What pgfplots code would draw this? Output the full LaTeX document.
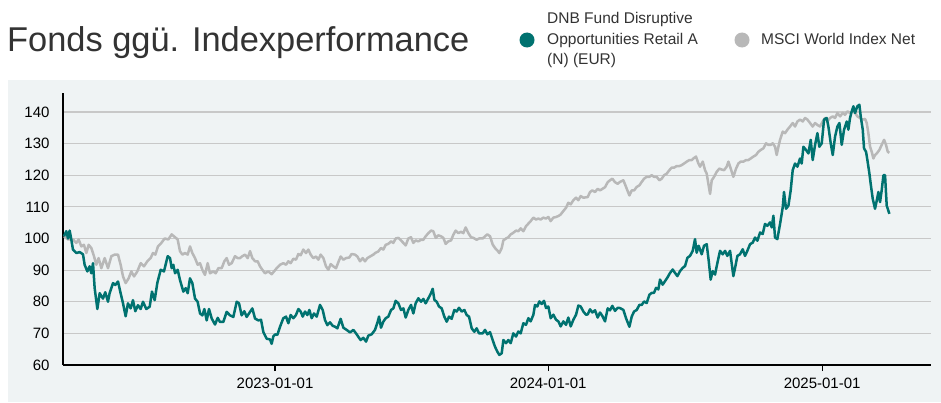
\documentclass[border=0pt]{standalone}
\usepackage{pgfplots}
\pgfplotsset{compat=1.18}
\usepackage{pgfplotstable}
\usepackage{fontspec}
\setmainfont{Liberation Sans}
\definecolor{fundc}{RGB}{0,114,112}
\definecolor{idxc}{RGB}{184,184,184}
\definecolor{panel}{RGB}{239,243,244}
\definecolor{gridc}{RGB}{200,200,200}
\definecolor{txt}{RGB}{51,51,51}

% x = days since 2023-01-01
\pgfplotstableread{
x y
-282 100.7
-278.9 102.3
-276.6 100
-274.4 102.5
-272.2 99.7
-270 96.5
-265.5 95.4
-261 95.7
-256.6 95
-254.4 91.7
-250.8 89.6
-247.7 91.2
-245.5 89
-243.2 92.2
-241 84.3
-237.4 77.7
-234.3 82.7
-229.9 81
-226.8 83
-223.2 80
-221 82.7
-216.5 85.9
-213.4 85.3
-209.8 86.4
-206.3 82.7
-203.1 79.5
-199.6 75.4
-196.5 79.5
-192.9 77.9
-189.8 80.5
-186.7 77
-183.1 78.9
-179.5 77.7
-176.4 80
-172 77.7
-167.5 78.4
-164.4 83.2
-160.8 80.5
-157.3 85.9
-152.8 90.1
-148.4 89.6
-143.4 94.4
-140.3 93.8
-138.1 90.6
-135.9 91.7
-133.6 89
-130.1 90.1
-127 86.9
-122.5 83.2
-119.4 84.3
-116.7 82.7
-113.6 87.4
-110.5 85.9
-106.9 81
-103.4 80
-100.2 76.3
-97.1 75.7
-94.4 77.7
-91.3 74.1
-88.2 77.7
-84.6 74.7
-80.2 72.8
-76.6 74.9
-73.5 73.6
-69.1 73.6
-64.6 76.8
-60.1 75.7
-55.7 75.2
-51.2 80
-48.1 79.5
-44.6 75.7
-41 77
-37.9 75.2
-33.4 76.8
-30.3 77.9
-26.7 74.7
-22.3 74.1
-18.7 74.3
-15.6 70.4
-11.1 68.3
-6.7 68.1
-4.5 66.7
-2.2 69.1
0.5 69.7
3.1 69.5
6.7 72.1
11.1 74.8
14.7 75.3
17.8 73.2
20.9 75.8
24.5 74.8
28 75.8
31.2 77.7
34.3 76.9
37 75.3
40.1 76.9
43.2 75.8
45.9 77.4
49 74.8
52.1 76.3
55.7 75.3
60.1 79
63.7 77.4
66.8 74.2
69.9 72.6
73.5 73.5
77 72.4
80.2 72.1
83.3 71.6
87.7 74.6
91.3 71.8
95.7 71.1
100.2 70.3
104.7 71.1
108.2 70
111.3 68.9
114.4 67.9
118 68.6
121.6 67.4
124.7 69.3
129.1 69.7
133.6 71.1
137.2 73.7
139 75.3
141.6 71.8
144.7 73.7
147.9 74.8
151.4 75.3
155 77.4
158.1 77.9
161.2 80.3
164.8 79.5
168.3 77.4
171.5 77.9
174.6 75
178.1 77.4
181.7 79
184.8 76.3
187.9 79.5
191.5 81.1
195.1 80
198.2 80.9
201.3 79.5
204.9 81.1
208.4 82.7
210.7 84.1
212.9 80.6
216 80
219.1 78.5
222.7 77.9
226.2 75.3
229.4 73.7
232.5 75.3
236 74.6
239.6 77.4
242.7 76.9
245.8 78.1
249.4 76.9
253 77.4
256.1 75.8
259.2 75.3
262.8 71.6
266.3 70.5
269.4 71.6
272.6 70
277.5 70
280.6 71.1
283.7 69.7
287.3 70.4
290.8 67.9
293.9 65.8
297.1 64.2
299.7 63.2
302.9 63.7
305.1 67.9
308.6 66.9
311.8 67.9
314.9 66.9
318.4 70
322 69
325.1 70.6
328.2 70
331.8 73.2
335.4 72.7
338.5 74.8
341.6 73.8
345.2 75.9
347.4 79
350.5 78.5
353.2 80.1
356.3 79.3
359.4 80.3
362.1 78
365.2 78.5
368.3 74.8
371.9 75.9
375.5 74.3
378.6 73.8
381.7 72.2
385.3 73.8
388.8 72.7
391.9 75
395.1 72.2
398.6 74.3
402.2 75.9
405.3 78.8
408.4 78.5
412 76.9
415.5 75.9
417.8 76
420.9 77.6
424 76.6
427.6 77.3
431.1 75
434.2 76.6
437.4 75.5
440.9 73.8
444.5 77.9
447.6 77.3
450.7 78.7
454.3 77.1
457.9 78.1
461 78
465.5 77.4
469 74.8
473.5 72.1
476.6 75.3
479.7 76.9
483.3 77.4
486.8 79
490 79
493.1 80.1
496.6 79.6
500.2 82.2
503.3 82.8
506.4 82.8
509.1 84.4
512.2 83.9
514.4 87
518 85.4
521.1 86.5
524.2 87.6
527.8 89.1
531.4 90.2
534.5 89.1
537.6 88.1
541.2 89.7
544.7 90.7
547.9 91.3
551 93.9
554.5 94.5
558.1 96.1
561.2 99.8
563.4 95.5
566.1 97.7
570.1 95
573.2 97.7
576.8 98.2
579.5 92.9
582.1 87
584.8 89.7
587.9 88.6
591.1 92.3
594.6 96.1
598.2 95
601.3 96.1
604.4 94.5
608 96.1
612.4 88.1
614.7 90.7
617.8 94.5
621.3 95
624.9 96.6
628 94.5
631.1 96.1
634.7 98.2
638.3 98.7
641.4 100.3
644.5 99.3
648.1 101.9
651.6 101.4
654.7 104.6
657.9 104
661.4 105.1
663.7 103.5
665.9 107.2
668.1 100.3
671.2 99.8
674.8 104.6
678.4 109.9
680.1 114.7
682.8 109.4
686 110.4
689 115.2
691.7 121.6
694.8 123.7
698 122.7
701.5 125.3
703.7 123.7
706 129
709.5 128
712.7 126.9
715.8 131.2
718.4 124.8
721.6 129.6
724.7 133.3
727.3 129
730.5 130.1
733.6 137.6
737.1 138.1
739.4 135.4
742.5 130.1
745.2 126.4
748.3 132.2
751.4 135.4
754.1 136.5
757.2 129.6
760.3 134.4
763.9 137
766.1 134.4
768.3 138.1
770.6 140.2
772.8 141.8
775 139.7
778.1 141.8
780.8 142.3
782.6 138.6
785.3 134.4
787 128.5
789.7 127.4
791.5 124.8
794.2 120.5
795.9 117.3
798.6 112.6
801.7 109.4
804 112
806.2 114.7
808.4 111.5
810.6 115.2
812.9 120
815.1 120
817.3 110.4
820.9 107.8
}\fund

\pgfplotstableread{
x y
-282 100.7
-276.6 99.7
-270 99.7
-265.5 98.6
-262.4 99.7
-258.8 97.5
-255.3 98
-252.1 95.4
-249 98
-245.5 97
-241.9 94.4
-238.8 91.7
-235.7 93.8
-232.1 90.6
-227.6 93.8
-223.2 90.6
-218.7 94.4
-214.3 94.9
-209.8 94.9
-206.3 91.7
-203.1 88
-199.6 85.9
-195.6 87.4
-192 89.6
-188.4 88
-184 89.6
-179.5 92.2
-175.1 91.2
-170.6 92.8
-166.2 93.8
-163.1 95.4
-159.9 94.9
-156.4 97.5
-151.9 98.6
-147.5 100
-142.5 99.7
-138.1 101.3
-133.6 100.4
-130.1 99.7
-127 96
-123.8 94.9
-120.3 95.4
-116.7 94.9
-113.6 97.5
-110.5 95.4
-106.9 93.8
-103.4 91.7
-100.2 92.2
-97.1 90.1
-93.6 88.5
-90 92.2
-86.9 89
-82.4 89.6
-79.3 89
-75.7 90.6
-71.3 90.6
-67.7 92.8
-64.6 93.8
-61.5 91.7
-57.9 92.2
-53.5 94.4
-49.9 93.8
-46.8 93.8
-43.7 94.4
-40.1 94.9
-36.5 93.8
-33.4 96
-30.3 93.8
-26.7 92.8
-23.2 92.8
-20.1 91.2
-16.9 90.1
-13.4 89
-8.9 89.6
-4.5 88.7
2.2 90.6
6.7 91.7
11.1 92.2
14.7 91.7
17.8 92.8
20.9 92.2
24.5 93.6
28 93.3
31.2 95.1
34.3 94.7
37.8 96.5
41.4 95.4
44.5 96.5
47.6 94.9
51.2 93.8
54.8 94.3
57.9 93.3
61 94.9
64.6 93.8
68.1 91.2
71.2 90.1
74.4 91.9
77.9 91.2
81.5 90.6
84.6 92.5
87.7 94.3
91.3 93.3
94.9 93.8
99.3 94
102.4 95.1
106.9 94.9
110 94.3
113.6 92.8
117.1 93.8
120.2 92.8
123.4 93.8
126.9 94.3
131.4 94.9
133.6 95.4
138 95.9
141.6 97
144.7 96.5
147.9 98
151.4 98.3
155 99.1
158.1 98.6
161.2 100
164.8 100.2
168.3 99.4
171.5 98.6
174.6 97.8
178.1 100
181.7 100.4
184.8 98.6
187.9 99.4
191.5 99.1
195.1 99.6
198.2 99.6
201.3 100.7
204.9 101.7
208.4 102.5
211.5 102.3
214.7 100.2
218.2 101
221.8 100.7
224.9 100.2
228 98.3
231.6 99.1
235.2 99.4
238.3 101.2
241.4 102.5
245 101.7
248.5 102.1
251.6 101.7
254.7 103.5
258.3 101.7
261.9 100.4
265 100.2
269.4 99.6
272.6 100
277.5 100
280.6 100.7
283.7 101.3
287.3 100.7
290.8 98.1
293.9 97
297.1 96.2
299.7 95.4
302.9 97
305.1 99.4
308.6 100
311.8 100.4
314.9 101.3
318.4 101.8
322 102.5
325.1 102.3
328.2 103.2
331.8 102.3
335.4 103.9
338.5 104.7
341.6 105.5
345.2 106.6
348.7 106
351.8 106.3
355 106
358.5 106.6
362.1 106.3
365.2 106.8
368.3 105.5
371.9 106.6
375.5 106.8
378.6 107.1
381.7 107.6
385.3 108.7
388.8 109.7
391.9 111.3
395.1 110.8
398.6 112.1
402.2 112.9
405.3 112.1
408.4 113.4
412 112.9
417.8 113.1
420.9 114.7
424 115.2
427.6 114.7
431.1 115.7
434.2 115.2
437.4 115.7
440.9 116.2
444.5 117.8
447.6 118.4
450.7 118.9
454.3 117.8
457.9 117.3
461 117.9
465.5 118.4
469 116.3
473.5 113.6
476.6 115.2
479.7 115.2
483.3 116.3
486.8 116.8
490 117.9
493.1 118.9
496.6 119.5
500.2 119.5
503.3 120
506.4 119.5
510 119.5
513.6 118.4
516.7 118.9
519.8 120
523.4 120.5
526.9 121.6
530 122.4
533.2 122.4
536.7 122.9
540.3 122.9
543.4 123.2
546.5 123.7
550.1 124.3
553.6 124.8
556.8 124.8
559 125.3
562.5 125.9
565.7 123.7
567.9 122.7
571.5 124.3
574.6 121.6
576.8 120.5
579 117.3
581.3 114.1
583.5 118.4
586.6 119.5
590.2 121.1
593.7 122.1
596.8 121.8
600 121.6
603.5 122.7
605.8 124.3
608.9 122.1
612.4 119.5
616 122.1
619.1 123.7
622.2 124.3
625.8 124.3
629.4 124.8
632.5 124.8
635.6 125.3
639.2 125.9
642.7 126.4
645.8 127.4
649 128
652.5 128.5
656.1 130.1
659.2 129.6
662.3 129.6
665 130.1
668.1 129
670.3 126.4
672.6 129
674.8 131.2
678.4 133.8
681.5 133.3
684.6 134.4
688.2 135.4
691.7 136.5
694.8 135.4
698 137
701.5 137.6
705.1 137
708.2 138.1
711.3 137.6
714.9 136.5
718.4 135.4
721.6 136.5
724.7 135.9
728.2 135.4
731.8 137
734.9 138.1
738 137
741.6 138.1
745.2 138.6
748.3 138.1
751.4 139.7
755 138.6
758.5 139.7
761.6 139.1
764.8 140.2
768.3 139.7
771.9 140.2
775 139.7
778.1 138.6
781.7 138.1
785.3 137.6
788.4 137.8
790.6 136.5
792.8 133.3
795.1 129
797.3 127.4
799.5 125.3
801.7 126.4
804 126.9
807.5 128
810.6 129.6
813.8 131.2
816.4 129.6
818.7 127.4
820.9 127.1
}\index

\begin{document}
\begin{tikzpicture}[x=1bp,y=1bp]
\useasboundingbox (0,0) rectangle (941,402);
\fill[white] (0,0) rectangle (941,402);
\fill[panel] (8,0) rectangle (941,322);
% title
\node[anchor=base west, inner sep=0pt, text=txt, font=\fontsize{34.4bp}{40bp}\selectfont] at (7,351) {Fonds ggü. Indexperformance};
% legend
\fill[fundc] (527,362) circle (7.5);
\node[anchor=base west, inner sep=0pt, text=txt, font=\fontsize{15.5bp}{18bp}\selectfont] at (547,379) {DNB Fund Disruptive};
\node[anchor=base west, inner sep=0pt, text=txt, font=\fontsize{15.5bp}{18bp}\selectfont] at (547,358) {Opportunities Retail A};
\node[anchor=base west, inner sep=0pt, text=txt, font=\fontsize{15.5bp}{18bp}\selectfont] at (547,338) {(N) (EUR)};
\fill[idxc] (742,362) circle (7.5);
\node[anchor=base west, inner sep=0pt, text=txt, font=\fontsize{15.5bp}{18bp}\selectfont] at (761,358) {MSCI World Index Net};

\begin{axis}[
  at={(63bp,37bp)}, anchor=south west,
  scale only axis, width=868bp, height=272bp,
  xmin=-283.3, xmax=876.5, ymin=60, ymax=146,
  axis lines=left,
  axis line style={-, black, line width=2.2bp},
  xtick={0,365,731},
  xticklabels={2023-01-01,2024-01-01,2025-01-01},
  ytick={60,70,...,140},
  tick align=outside,
  major tick length=6bp,
  xtick style={black, line width=1.2bp},
  ytick style={draw=none},
  ymajorgrids,
  major grid style={gridc, line width=1.2bp},
  /pgf/number format/assume math mode=true,
  ticklabel style={font=\fontsize{15bp}{15bp}\selectfont, text=black},
  yticklabel style={xshift=-4bp},
  xticklabel style={yshift=-4bp},
  clip=false,
]
\addplot[idxc, line width=2.5bp, line join=round] table[x=x,y=y] {\index};
\addplot[fundc, line width=2.5bp, line join=round] table[x=x,y=y] {\fund};
\end{axis}
\end{tikzpicture}
\end{document}
